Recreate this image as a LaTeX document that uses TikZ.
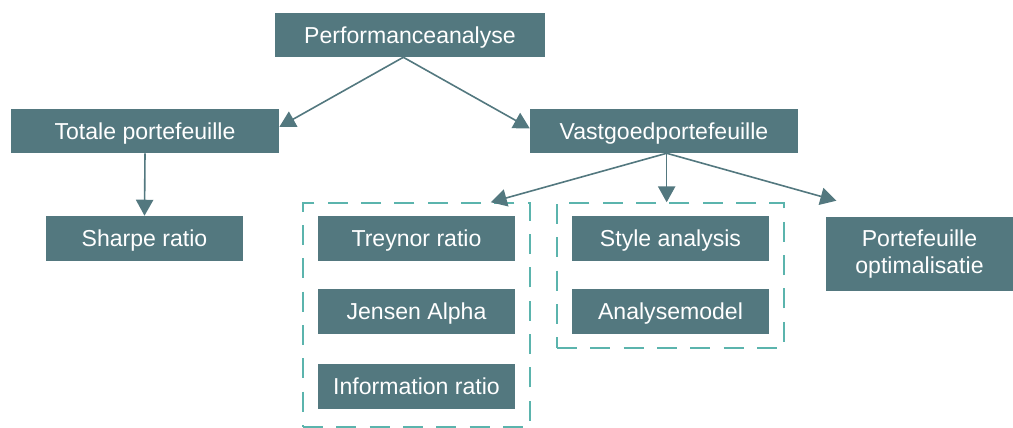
\documentclass[tikz,border=0pt]{standalone}
\usepackage{fontspec}
\setmainfont{Liberation Sans}
\usetikzlibrary{arrows.meta}
\definecolor{boxcol}{RGB}{83,120,127}
\definecolor{grpcol}{RGB}{91,180,173}
\begin{document}
\begin{tikzpicture}[x=0.75pt,y=-0.75pt,
    font=\fontsize{17.3}{20.5}\selectfont,
    box/.style={fill=boxcol,text=white,inner sep=0pt,minimum width=147.75pt,minimum height=33.75pt},
    line/.style={box,text height=12.4pt,text depth=0pt},
    wide/.style={line,minimum width=201pt,minimum height=33pt},
    grp/.style={draw=grpcol,line width=1.1pt,dash pattern=on 15pt off 10pt,inner sep=0pt,minimum width=170.25pt},
    arr/.style={draw=boxcol,line width=1.2pt,-{Triangle[length=12pt,width=13pt]}}]
    \useasboundingbox (0,0) rectangle (1013,428);
    % groups
    \node[grp,minimum height=168pt] (grpa) at (416.5,315) {};
    \node[grp,minimum height=108.75pt] (grpb) at (670.5,275.5) {};
    % boxes
    \node[wide,minimum width=202.5pt] (perf) at (410,35) {Performanceanalyse};
    \node[wide] (totaal) at (145,131) {Totale portefeuille};
    \node[wide] (vastgoed) at (664,131) {Vastgoedportefeuille};
    \node[line] (sharpe) at (144.5,238.5) {Sharpe ratio};
    \node[line] (treynor) at (416.5,238.5) {Treynor ratio};
    \node[line] (jensen) at (416.5,311.5) {Jensen Alpha};
    \node[line] (info) at (416.5,386.5) {Information ratio};
    \node[line] (style) at (670.5,238.5) {Style analysis};
    \node[line] (model) at (670.5,311.5) {Analysemodel};
    \node[box,minimum width=140.25pt,minimum height=55.5pt,align=center] (optim) at (919.5,254) {Portefeuille\\optimalisatie};
    % arrows
    \draw[arr] ([xshift=-5pt]perf.south) -- ([yshift=3pt]totaal.east);
    \draw[arr] ([xshift=-5pt]perf.south) -- ([yshift=2pt]vastgoed.west);
    \draw[arr] (totaal.south) -- (sharpe.north);
    \draw[arr] ([xshift=2pt]vastgoed.south) -- ([xshift=-30pt]grpa.north east);
    \draw[arr] ([xshift=2pt]vastgoed.south) -- ([xshift=2pt]vastgoed.south |- grpb.north);
    \draw[arr] ([xshift=2pt]vastgoed.south) -- ([shift={(8pt,12pt)}]optim.north west);
\end{tikzpicture}
\end{document}
